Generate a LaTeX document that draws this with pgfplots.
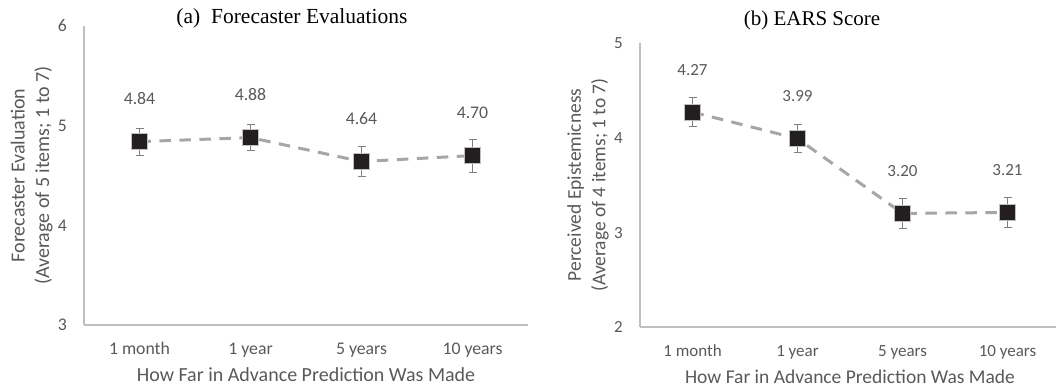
\documentclass[border=0pt]{standalone}
\usepackage{pgfplots}
\usepackage{pgfplotstable}
\pgfplotsset{compat=1.18}
\usepackage{fontspec}
\setmainfont{Carlito}
\newfontfamily\timesfont{Liberation Serif}
\definecolor{txt}{HTML}{595959}
\definecolor{axl}{HTML}{BFBFBF}
\definecolor{dashc}{HTML}{A6A6A6}
\definecolor{mk}{HTML}{231F20}
\definecolor{errc}{HTML}{7F7F7F}

\pgfplotstableread{
x y err lab
0 4.84 0.135 4.84
1 4.88 0.13 4.88
2 4.64 0.15 4.64
3 4.70 0.165 4.70
}\leftdata
\pgfplotstableread{
x y err lab
0 4.27 0.15 4.27
1 3.99 0.15 3.99
2 3.20 0.16 3.20
3 3.21 0.16 3.21
}\rightdata

\pgfplotsset{
  panel/.style n args={3}{
    scale only axis,
    clip=false,
    axis x line=bottom, axis y line=left,
    axis line style={-, draw=axl, line width=1.1pt},
    xmin=-0.5, xmax=3.5,
    xtick={0,1,2,3},
    xticklabels={1 month,1 year,5 years,10 years},
    major tick length=0pt,
    /pgf/number format/assume math mode=true,
    x tick label style={font=\fontsize{#1}{#1}\selectfont, text=txt, anchor=base, inner sep=0pt, yshift=-30pt},
    y tick label style={font=\fontsize{#1}{#1}\selectfont, text=txt, anchor=base east, inner sep=0pt, xshift=-17pt, yshift=-6pt},
    every axis y label/.style={at={(axis description cs:#3,0.5)}, rotate=90, anchor=center, align=center, font=\fontsize{#2}{24.5}\selectfont, text=txt},
    every axis x label/.style={at={(axis description cs:0.5,0)}, anchor=base, inner sep=0pt, yshift=-57pt, font=\fontsize{#2}{#2}\selectfont, text=txt},
    nodes near coords,
    point meta=explicit symbolic,
    every node near coord/.append style={anchor=base, yshift=37pt, font=\fontsize{#1}{#1}\selectfont, text=txt},
  },
  serie/.style={
    draw=dashc, line width=3pt, dash pattern=on 11.5pt off 8.5pt,
    mark=square*, mark size=8pt,
    mark options={solid, fill=mk, draw=axl, line width=0.7pt},
    error bars/.cd, y dir=both, y explicit,
    error bar style={solid, draw=errc, line width=0.9pt},
    error mark options={solid, draw=errc, line width=0.9pt, mark size=4pt, rotate=90},
  },
}

\begin{document}
\begin{tikzpicture}
\useasboundingbox (0pt,0pt) rectangle (1056pt,387pt);

\begin{axis}[
  panel={17.75}{20}{-0.118},
  at={(84pt,62pt)}, anchor=south west,
  width=444pt, height=299pt,
  ymin=3, ymax=6, ytick={3,4,5,6},
  xlabel={How Far in Advance Prediction Was Made},
  ylabel={Forecaster Evaluation\\(Average of 5 items; 1 to 7)},
]
\addplot[serie] table[x=x, y=y, y error=err, meta=lab] {\leftdata};
\end{axis}

\begin{axis}[
  panel={17}{19.5}{-0.124},
  at={(640pt,60pt)}, anchor=south west,
  width=420pt, height=284pt,
  ymin=2, ymax=5, ytick={2,3,4,5},
  xlabel={How Far in Advance Prediction Was Made},
  ylabel={Perceived Epistemicness\\(Average of 4 items; 1 to 7)},
]
\addplot[serie] table[x=x, y=y, y error=err, meta=lab] {\rightdata};
\end{axis}

\node[font=\timesfont\fontsize{21.5}{22}\selectfont] at (292pt,369pt) {(a)\ \ Forecaster Evaluations};
\node[font=\timesfont\fontsize{21}{22}\selectfont] at (812pt,367pt) {(b) EARS Score};
\end{tikzpicture}
\end{document}
